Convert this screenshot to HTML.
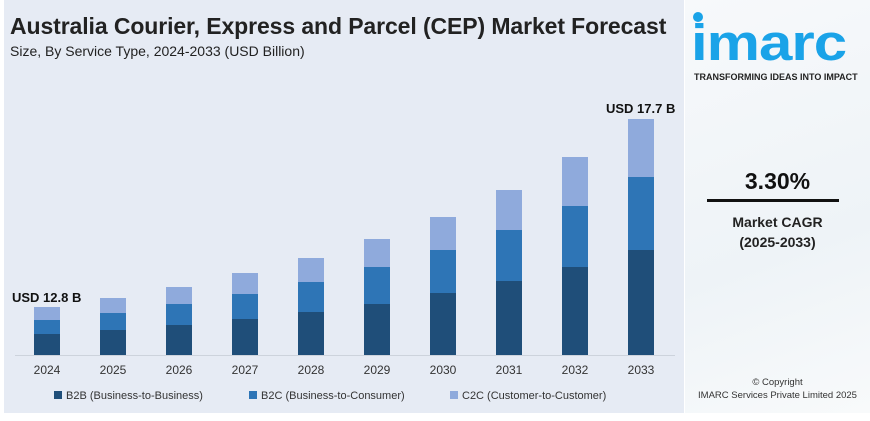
<!DOCTYPE html><html><head><style>
*{margin:0;padding:0}
body{width:870px;height:421px;background:#fff;position:relative;overflow:hidden;font-family:"Liberation Sans",sans-serif}
.a{position:absolute}
.panel{left:4px;top:0;width:680px;height:413px;background:#e6ebf4}
.b{position:absolute;width:26px}
.yl{position:absolute;top:363px;font-size:12px;color:#333;width:50px;text-align:center}
</style></head><body>
<div class="a panel"></div>
<div class="a" style="left:685px;top:0;width:185px;height:413px;background:linear-gradient(160deg,#f7f9fb,#eef3f7 60%,#f8fafb)"></div>
<div class="a" style="left:10px;top:13px;font-size:23px;font-weight:bold;color:#222;letter-spacing:-0.1px">Australia Courier, Express and Parcel (CEP) Market Forecast</div>
<div class="a" style="left:10px;top:43px;font-size:14px;color:#222">Size, By Service Type, 2024-2033 (USD Billion)</div>
<div class="a" style="left:15px;top:355px;width:660px;height:1px;background:#cdd3dc"></div>
<div id="bars"></div>
<div class="a" style="left:12px;top:290px;font-size:13px;font-weight:bold;color:#111">USD 12.8 B</div>
<div class="a" style="left:606px;top:101px;font-size:13px;font-weight:bold;color:#111">USD 17.7 B</div>
<div class="a" style="left:54px;top:390px;font-size:11px;color:#333"><span style="display:inline-block;width:8px;height:8px;background:#1f4e79;margin-right:4px"></span>B2B (Business-to-Business)</div>
<div class="a" style="left:249px;top:390px;font-size:11px;color:#333"><span style="display:inline-block;width:8px;height:8px;background:#2e75b6;margin-right:4px"></span>B2C (Business-to-Consumer)</div>
<div class="a" style="left:450px;top:390px;font-size:11px;color:#333"><span style="display:inline-block;width:8px;height:8px;background:#8faadc;margin-right:4px"></span>C2C (Customer-to-Customer)</div>
<div class="a" style="left:693px;top:12px;width:10px;height:10px;border-radius:50%;background:#1aa3e8"></div>
<div class="a" style="left:691px;top:16px;font-size:60px;font-weight:bold;color:#1aa3e8;letter-spacing:-1px;line-height:64px;transform:scaleY(0.85);transform-origin:top left">imarc</div>
<div class="a" style="left:694px;top:72px;font-size:9px;font-weight:bold;color:#222">TRANSFORMING IDEAS INTO IMPACT</div>
<div class="a" style="left:685px;top:168px;width:185px;text-align:center;font-size:23px;font-weight:bold;color:#111">3.30%</div>
<div class="a" style="left:707px;top:199px;width:132px;height:3px;background:#111"></div>
<div class="a" style="left:685px;top:212px;width:185px;text-align:center;font-size:14px;font-weight:bold;color:#222;line-height:20px">Market CAGR<br>(2025-2033)</div>
<div class="a" style="left:685px;top:376px;width:185px;text-align:center;font-size:9.5px;color:#333;line-height:13px">© Copyright<br>IMARC Services Private Limited 2025</div>
<script>
var d=[[2024,307,320,334],[2025,298,313,330],[2026,287,304,325],[2027,273,294,319],[2028,258,282,312],[2029,239,267,304],[2030,217,250,293],[2031,190,230,281],[2032,157,206,267],[2033,119,177,250]];
var h='';d.forEach(function(r,i){var x=34+i*66;
h+='<div class="b" style="left:'+x+'px;top:'+r[1]+'px;height:'+(r[2]-r[1])+'px;background:#8faadc"></div>';
h+='<div class="b" style="left:'+x+'px;top:'+r[2]+'px;height:'+(r[3]-r[2])+'px;background:#2e75b6"></div>';
h+='<div class="b" style="left:'+x+'px;top:'+r[3]+'px;height:'+(355-r[3])+'px;background:#1f4e79"></div>';
h+='<div class="yl" style="left:'+(x-12)+'px">'+r[0]+'</div>';});
document.getElementById('bars').innerHTML=h;
</script>
</body></html>
